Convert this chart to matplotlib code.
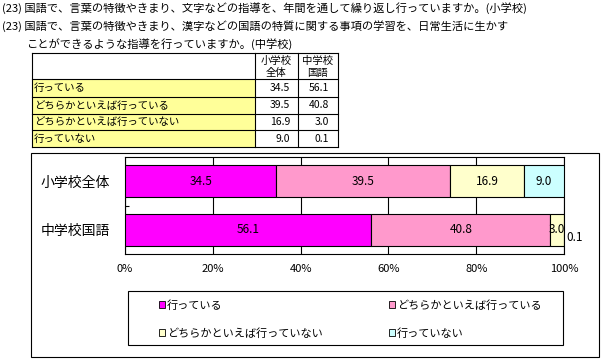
import matplotlib.pyplot as plt
from matplotlib.patches import Rectangle, Patch

plt.rcParams['font.family'] = ['Noto Sans CJK JP', 'DejaVu Sans']

title1 = "(23) 国語で、言葉の特徴やきまり、文字などの指導を、年間を通して繰り返し行っていますか。(小学校)"
title2 = "(23) 国語で、言葉の特徴やきまり、漢字などの国語の特質に関する事項の学習を、日常生活に生かす"
title3 = "ことができるような指導を行っていますか。(中学校)"

categories = ["小学校全体", "中学校国語"]
responses = ["行っている", "どちらかといえば行っている", "どちらかといえば行っていない", "行っていない"]
elem = [34.5, 39.5, 16.9, 9.0]
junior = [56.1, 40.8, 3.0, 0.1]
colors = ["#FF00FF", "#FF99CC", "#FFFFCC", "#CCFFFF"]
col_heads = ["小学校\n全体", "中学校\n国語"]

W, H = 603, 360
fig = plt.figure(figsize=(W / 100, H / 100), dpi=100)

# overlay in pixel coords for titles, table, frames
bg = fig.add_axes([0, 0, 1, 1])
bg.set_xlim(0, W)
bg.set_ylim(H, 0)
bg.axis("off")

bg.text(2, 8, title1, fontsize=8.1, va="center")
bg.text(2, 26, title2, fontsize=8.1, va="center")
bg.text(26, 44, title3, fontsize=8.1, va="center")

# table
xs = [32, 255, 298, 338]
ys = [53, 79, 97, 114, 130, 147]
for i in range(4):
    bg.add_patch(Rectangle((xs[0], ys[i + 1]), xs[1] - xs[0], ys[i + 2] - ys[i + 1],
                           facecolor="#FFFF99", edgecolor="none"))
for y in ys:
    bg.plot([xs[0], xs[-1]], [y, y], color="black", lw=0.8)
for x in xs:
    bg.plot([x, x], [ys[0], ys[-1]], color="black", lw=0.8)
for j, head in enumerate(col_heads):
    cx = (xs[j + 1] + xs[j + 2]) / 2
    top, bot = head.split("\n")
    bg.text(cx, 61, top, fontsize=7.5, ha="center", va="center")
    bg.text(cx, 73, bot, fontsize=7.5, ha="center", va="center")
for i, r in enumerate(responses):
    cy = (ys[i + 1] + ys[i + 2]) / 2
    bg.text(xs[0] + 2, cy, r, fontsize=7.5, va="center")
    bg.text(xs[2] - 8, cy, f"{elem[i]:.1f}", fontsize=7.5, ha="right", va="center")
    bg.text(xs[3] - 9, cy, f"{junior[i]:.1f}", fontsize=7.5, ha="right", va="center")

# chart frame and legend frame
bg.add_patch(Rectangle((31, 153), 568, 204, facecolor="none", edgecolor="black", lw=0.8))
bg.add_patch(Rectangle((128, 291), 435, 54, facecolor="none", edgecolor="black", lw=0.8))

# bar chart
ax = fig.add_axes([125 / W, 1 - 254 / H, 439 / W, 97 / H])
ypos = [0, 1]
left = [0, 0]
for k in range(4):
    vals = [elem[k], junior[k]]
    ax.barh(ypos, vals, left=left, height=0.67, color=colors[k],
            edgecolor="black", linewidth=0.8, zorder=3)
    for i in range(2):
        v = vals[i]
        cx = left[i] + v / 2
        if v >= 1:
            ax.text(cx, ypos[i], f"{v:.1f}", fontsize=8.5, ha="center", va="center", zorder=4)
        else:
            ax.annotate(f"{v:.1f}", (left[i] + v, ypos[i]), xytext=(11, -8),
                        textcoords="offset pixels", fontsize=8.5, ha="center", va="center")
    left = [left[0] + vals[0], left[1] + vals[1]]

ax.set_xlim(0, 100)
ax.set_ylim(1.5, -0.5)
ax.set_xticks([0, 20, 40, 60, 80, 100])
ax.set_xticklabels(["0%", "20%", "40%", "60%", "80%", "100%"], fontsize=8)
ax.set_yticks(ypos)
ax.set_yticklabels(categories, fontsize=10)
ax.tick_params(axis="x", length=0, pad=7)
ax.tick_params(axis="y", length=0, pad=11)
ax.set_yticks([0.5], minor=True)
ax.tick_params(axis="y", which="minor", direction="in", length=3, width=0.8)
ax.grid(axis="x", color="black", linewidth=0.8, zorder=1)
for s in ax.spines.values():
    s.set_linewidth(0.8)

# legend is filled column by column, so order entries to read row by row
handles = [Patch(facecolor=c, edgecolor="black", linewidth=0.6) for c in colors]
order = [0, 2, 1, 3]
fig.legend([handles[i] for i in order], [responses[i] for i in order],
           loc="upper left", ncol=2,
           bbox_to_anchor=(159 / W, 1 - 300 / H), frameon=False, fontsize=8,
           handlelength=0.55, handleheight=0.55, handletextpad=0.15,
           columnspacing=6.0, labelspacing=1.55, borderpad=0, borderaxespad=0)

fig.savefig("out.png", dpi=100)
